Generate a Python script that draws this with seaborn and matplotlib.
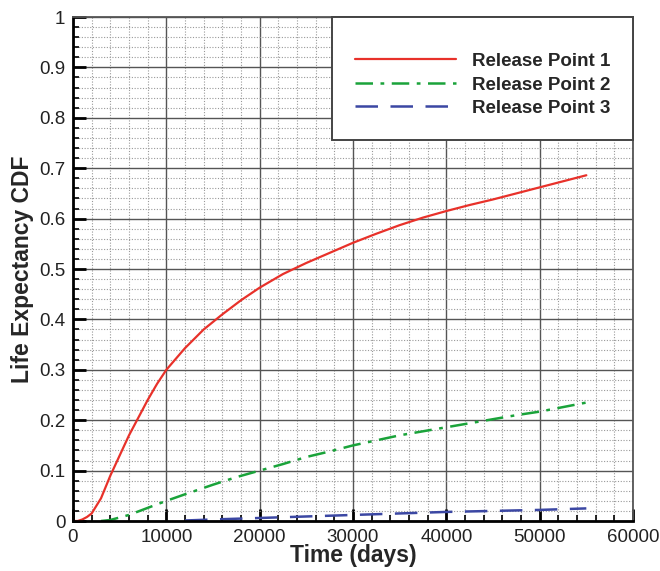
import numpy as np
import pandas as pd
import matplotlib
matplotlib.use("Agg")
import matplotlib.pyplot as plt
import seaborn as sns
from matplotlib.ticker import MultipleLocator

# ---- data ----
t1 = [0, 500, 1000, 1500, 2000, 3000, 4000, 5000, 6000, 7000, 8000, 9000, 10000,
      12000, 14000, 16000, 18000, 20000, 22500, 25000, 27500, 30000, 32500, 35000,
      37500, 40000, 42500, 45000, 47500, 50000, 52500, 55000]
cdf1 = [0.0, 0.0, 0.003, 0.008, 0.015, 0.045, 0.09, 0.13, 0.17, 0.205, 0.24, 0.272, 0.30,
        0.343, 0.38, 0.41, 0.438, 0.463, 0.49, 0.512, 0.532, 0.552, 0.57, 0.587,
        0.602, 0.615, 0.627, 0.638, 0.65, 0.662, 0.674, 0.686]

t2 = [3000, 4000, 6000, 8000, 10000, 12000, 15000, 17500, 20000, 22500, 25000,
      27500, 30000, 32500, 35000, 37500, 40000, 42500, 45000, 47500, 50000, 52500, 55000]
cdf2 = [0.0, 0.002, 0.012, 0.026, 0.04, 0.053, 0.072, 0.087, 0.10, 0.113, 0.127,
        0.138, 0.15, 0.16, 0.17, 0.178, 0.186, 0.194, 0.202, 0.21, 0.217, 0.226, 0.235]

t3 = [12000, 15000, 20000, 25000, 30000, 35000, 40000, 45000, 50000, 55000]
cdf3 = [0.001, 0.003, 0.006, 0.009, 0.012, 0.015, 0.018, 0.02, 0.022, 0.025]

labels = ["Release Point 1", "Release Point 2", "Release Point 3"]
x_ticks = [0, 10000, 20000, 30000, 40000, 50000, 60000]
y_ticks = [0, 0.1, 0.2, 0.3, 0.4, 0.5, 0.6, 0.7, 0.8, 0.9, 1]
y_tick_labels = ["0", "0.1", "0.2", "0.3", "0.4", "0.5", "0.6", "0.7", "0.8", "0.9", "1"]

sns.set_theme(style="white")
plt.rcParams['font.family'] = ['Liberation Sans', 'DejaVu Sans']

fig = plt.figure(figsize=(6.6, 5.71), dpi=100)
ax = fig.add_axes([73/660, 50/571, 560/660, 504/571])

sns.lineplot(x=t1, y=cdf1, ax=ax, color="#e8312a", lw=1.6, label=labels[0])
sns.lineplot(x=t2, y=cdf2, ax=ax, color="#1aa33a", lw=1.8, label=labels[1])
sns.lineplot(x=t3, y=cdf3, ax=ax, color="#3b47a3", lw=1.8, label=labels[2])
lines = ax.get_lines()
lines[1].set_dashes([7, 3, 1.5, 3])
lines[2].set_dashes([9, 5])

ax.set_xlim(0, 60000)
ax.set_ylim(0, 1)
ax.set_xticks(x_ticks)
ax.set_xticklabels([str(v) for v in x_ticks])
ax.set_yticks(y_ticks)
ax.set_yticklabels(y_tick_labels)
ax.xaxis.set_minor_locator(MultipleLocator(2000))
ax.yaxis.set_minor_locator(MultipleLocator(0.02))

ax.grid(which="major", color="#555555", lw=1.0, ls="-")
ax.grid(which="minor", color="#999999", lw=0.8, ls=(0, (1, 1.5)))
ax.set_axisbelow(True)

for side in ["left", "bottom"]:
    ax.spines[side].set_color("black")
    ax.spines[side].set_linewidth(2.0)
for side in ["top", "right"]:
    ax.spines[side].set_color("#555555")
    ax.spines[side].set_linewidth(1.3)

ax.tick_params(which="major", direction="in", length=9, width=2, color="black",
               labelsize=13.5, pad=5.5, bottom=True, left=True, top=False, right=False)
ax.tick_params(which="minor", direction="in", length=4, width=1.2, color="black",
               bottom=True, left=True, top=False, right=False)
for lab in ax.get_xticklabels() + ax.get_yticklabels():
    lab.set_color("#222222")

ax.set_xlabel("Time (days)", fontsize=16.5, fontweight="bold", labelpad=-1)
ax.set_ylabel("Life Expectancy CDF", fontsize=16.5, fontweight="bold", labelpad=4)

leg = ax.legend(loc="upper right", bbox_to_anchor=(1, 1), borderaxespad=0,
                frameon=True, fancybox=False, edgecolor="#444444", framealpha=1,
                prop={"size": 13.5, "weight": "bold"}, handlelength=5.4,
                handletextpad=0.85, borderpad=1.2, labelspacing=0.34,
                title=" ", title_fontsize=6)
leg.get_frame().set_linewidth(1.4)

fig.savefig("out.png", dpi=100)
